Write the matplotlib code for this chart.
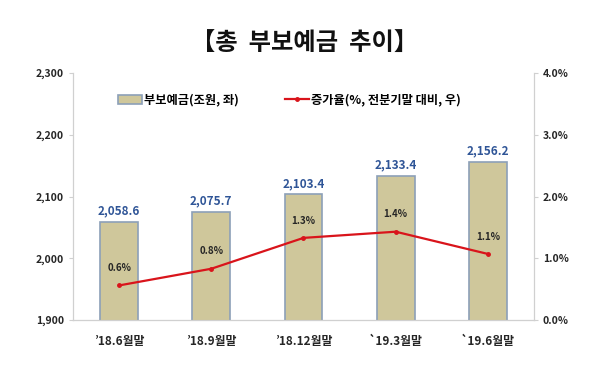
import matplotlib
matplotlib.use("Agg")
import matplotlib.pyplot as plt
from matplotlib.ticker import FuncFormatter

plt.rcParams['font.family'] = ['Noto Sans CJK KR', 'DejaVu Sans']

# Data
periods = ["’18.6월말", "’18.9월말", "’18.12월말", "`19.3월말", "`19.6월말"]
deposits = [2058.6, 2075.7, 2103.4, 2133.4, 2156.2]
growth = [0.56, 0.83, 1.33, 1.43, 1.07]
growth_labels = ["0.6%", "0.8%", "1.3%", "1.4%", "1.1%"]

BAR_COLOR = "#CFC79B"
BAR_EDGE = "#8CA0B8"
LINE_COLOR = "#D9141B"
TEXT = "#262626"
AXIS_GRAY = "#D0D0D0"

fig = plt.figure(figsize=(5.91, 3.68), dpi=100)
ax = fig.add_axes([0.1235, 0.1304, 0.78, 0.6712])
x = list(range(len(periods)))

# Bars (left axis)
bars = ax.bar(x, deposits, width=0.41, color=BAR_COLOR, edgecolor=BAR_EDGE,
              linewidth=1.2, label="부보예금(조원, 좌)", zorder=2)
ax.set_ylim(1900, 2300)
ax.set_yticks([1900, 2000, 2100, 2200, 2300])
ax.yaxis.set_major_formatter(FuncFormatter(lambda v, p: f"{v:,.0f}"))
ax.set_xlim(-0.5, len(periods) - 0.5)
ax.set_xticks(x)
ax.set_xticklabels(periods)

for xi, v in zip(x, deposits):
    ax.text(xi, v + 7, f"{v:,.1f}", ha="center", va="bottom", fontsize=8.5,
            fontweight="bold", color="#2F5597")

# Line (right axis)
ax2 = ax.twinx()
ax2.plot(x, growth, color=LINE_COLOR, linewidth=1.6, marker="o", markersize=2.5,
         label="증가율(%, 전분기말 대비, 우)", zorder=3)
ax2.set_ylim(0, 4.0)
ax2.set_yticks([0, 1, 2, 3, 4])
ax2.yaxis.set_major_formatter(FuncFormatter(lambda v, p: f"{v:.1f}%"))

for xi, g, lbl in zip(x, growth, growth_labels):
    ax2.text(xi, g + 0.2, lbl, ha="center", va="bottom", fontsize=7,
             fontweight="bold", color=TEXT)

# Axis styling
for a in (ax, ax2):
    for s in a.spines.values():
        s.set_color(AXIS_GRAY)
    a.spines["top"].set_visible(False)
    a.tick_params(colors=AXIS_GRAY, labelcolor=TEXT, labelsize=7.5, length=3)
ax.spines["bottom"].set_color("#BFBFBF")
ax.tick_params(axis="x", length=0, pad=11, labelsize=8.5)
for lbl in ax.get_xticklabels() + ax.get_yticklabels() + ax2.get_yticklabels():
    lbl.set_fontweight("bold")

# Legend
h1, l1 = ax.get_legend_handles_labels()
h2, l2 = ax2.get_legend_handles_labels()
fig.legend(h1 + h2, l1 + l2, loc="center", bbox_to_anchor=(0.49, 0.728), ncol=2,
           frameon=False, prop={"size": 8.8, "weight": "bold"}, handlelength=1.9,
           handleheight=0.8, columnspacing=3.8, handletextpad=0.2)

fig.text(0.515, 0.88, "【총  부보예금  추이】", ha="center", va="center", fontsize=17.5,
         fontweight="bold", color="#111111")

fig.savefig("out.png", dpi=100)
